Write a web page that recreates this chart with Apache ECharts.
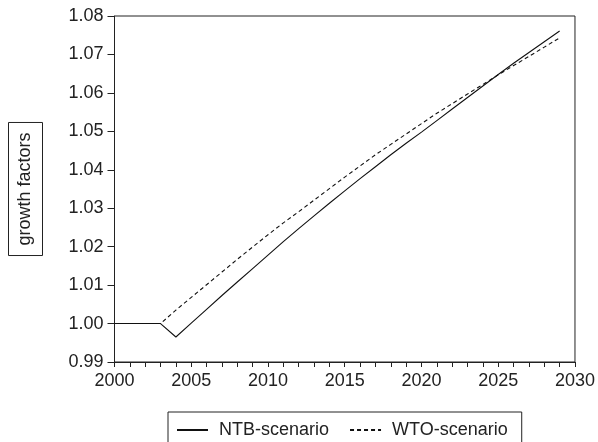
<!DOCTYPE html>
<html><head><meta charset="utf-8">
<script src="https://cdn.jsdelivr.net/npm/echarts@6/dist/echarts.min.js"></script>
<style>html,body{margin:0;padding:0;background:#fff}#c{width:598px;height:442px}</style>
</head><body><div id="c"></div>
<script>
const years = [2000,2001,2002,2003,2004,2005,2006,2007,2008,2009,2010,2011,2012,2013,2014,2015,2016,2017,2018,2019,2020,2021,2022,2023,2024,2025,2026,2027,2028,2029];
const ntb = [1.0000,1.0000,1.0000,1.0000,0.9965,1.0001,1.0037,1.0073,1.0108,1.0143,1.0178,1.0213,1.0247,1.0280,1.0313,1.0345,1.0377,1.0408,1.0439,1.0469,1.0498,1.0528,1.0558,1.0588,1.0618,1.0648,1.0677,1.0705,1.0733,1.0761];
const wto = [1.0000,1.0000,1.0000,1.0000,1.0035,1.0068,1.0101,1.0134,1.0167,1.0199,1.0231,1.0262,1.0291,1.0321,1.0351,1.0381,1.0410,1.0439,1.0466,1.0493,1.0520,1.0547,1.0572,1.0597,1.0622,1.0647,1.0671,1.0695,1.0719,1.0743];
const seriesNames = ['NTB-scenario','WTO-scenario'];
const yAxisTitle = 'growth factors';

const chart = echarts.init(document.getElementById('c'));
const font = 'Liberation Sans, Arial, Helvetica, sans-serif';
chart.setOption({
  animation: false,
  grid: {left:114, top:16, right:21, bottom:80, show:true, borderColor:'#222', borderWidth:1},
  xAxis: {
    type:'value', min:2000, max:2030, interval:5,
    axisLine:{show:true, lineStyle:{color:'#222', width:1}},
    axisTick:{show:true, length:5, lineStyle:{color:'#222'}},
    minorTick:{show:true, splitNumber:5, length:5, lineStyle:{color:'#222'}},
    splitLine:{show:false},
    axisLabel:{color:'#222', fontSize:18, fontFamily:font, margin:10, formatter:v=>String(v)}
  },
  yAxis: {
    type:'value', min:0.99, max:1.08, interval:0.01,
    name: yAxisTitle, nameLocation:'middle', nameRotate:90, nameGap:72,
    nameTextStyle:{color:'#222', fontSize:18, fontFamily:font, borderColor:'#222', borderWidth:1, padding:[8,10,8,10]},
    axisLine:{show:true, lineStyle:{color:'#222', width:1}},
    axisTick:{show:true, length:7, lineStyle:{color:'#222'}},
    splitLine:{show:false},
    axisLabel:{color:'#222', fontSize:18, fontFamily:font, margin:11, formatter:v=>v.toFixed(2)}
  },
  legend: {
    left:168, top:412, borderColor:'#222', borderWidth:1, padding:[9,14,8,8],
    itemWidth:31, itemHeight:14, itemGap:20,
    itemStyle:{opacity:0},
    textStyle:{color:'#222', fontSize:18, fontFamily:font, padding:[0,0,0,6]},
    data: seriesNames
  },
  series: [
    {name:seriesNames[0], type:'line', symbol:'none', data:years.map((y,i)=>[y,ntb[i]]), lineStyle:{color:'#111', width:1.1}, itemStyle:{color:'#111'}},
    {name:seriesNames[1], type:'line', symbol:'none', data:years.map((y,i)=>[y,wto[i]]), lineStyle:{color:'#111', width:1.1, type:[4,3]}, itemStyle:{color:'#111'}}
  ]
});
</script></body></html>
